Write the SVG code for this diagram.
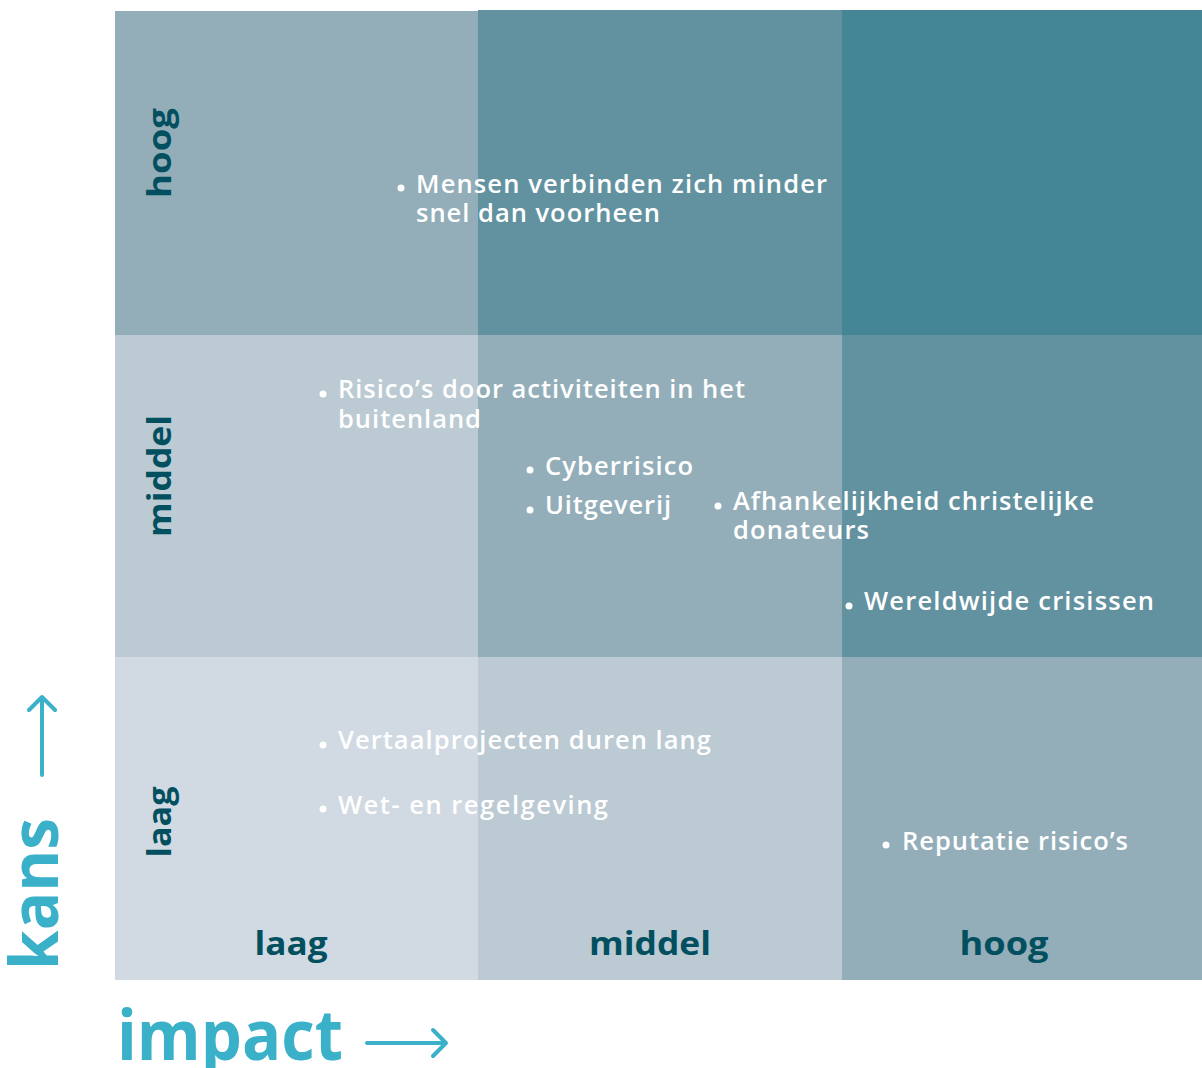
<svg xmlns="http://www.w3.org/2000/svg" width="1202" height="1068" viewBox="0 0 1202 1068">
<style>
.item{font-family:"Open Sans","Noto Sans","Liberation Sans",sans-serif;font-weight:600;font-size:25.5px;fill:#ffffff}
.dot{fill:#ffffff}
.lvl{font-family:"Open Sans","Noto Sans","Liberation Sans",sans-serif;font-weight:700;font-size:32px;fill:#02505f;text-anchor:middle}
.axis{font-family:"Open Sans","Noto Sans","Liberation Sans",sans-serif;font-weight:700;font-size:70px;fill:#3bb0c9}
.arr{stroke:#3bb0c9;stroke-width:4;fill:none;stroke-linecap:round;stroke-linejoin:round}
</style>
<rect width="1202" height="1068" fill="#ffffff"/>
<g id="grid">
<rect x="115" y="11" width="363" height="324" fill="#93aeb9"/>
<rect x="478" y="10" width="364" height="325" fill="#6292a0"/>
<rect x="842" y="10" width="360" height="325" fill="#448695"/>
<rect x="115" y="335" width="363" height="322" fill="#bbcad3"/>
<rect x="478" y="335" width="364" height="322" fill="#93aeb9"/>
<rect x="842" y="335" width="360" height="322" fill="#6292a0"/>
<rect x="115" y="657" width="363" height="323" fill="#d1dae2"/>
<rect x="478" y="657" width="364" height="323" fill="#bbcad3"/>
<rect x="842" y="657" width="360" height="323" fill="#93aeb9"/>
</g>
<g id="row-labels">
<text class="lvl" transform="translate(171,153) rotate(-90)" textLength="90" lengthAdjust="spacingAndGlyphs">hoog</text>
<text class="lvl" transform="translate(171,476) rotate(-90)" textLength="122" lengthAdjust="spacingAndGlyphs">middel</text>
<text class="lvl" transform="translate(171,822) rotate(-90)" textLength="71" lengthAdjust="spacingAndGlyphs">laag</text>
</g>
<g id="col-labels">
<text class="lvl" x="291" y="955" textLength="73" lengthAdjust="spacingAndGlyphs">laag</text>
<text class="lvl" x="650" y="955" textLength="122" lengthAdjust="spacingAndGlyphs">middel</text>
<text class="lvl" x="1004" y="955" textLength="89" lengthAdjust="spacingAndGlyphs">hoog</text>
</g>
<g id="item-mensen">
<circle class="dot" cx="401" cy="188" r="3.5"/>
<text class="item" x="416" y="193" textLength="411">Mensen verbinden zich minder</text>
<text class="item" x="416" y="222" textLength="244">snel dan voorheen</text>
</g>
<g id="item-risicos">
<circle class="dot" cx="323" cy="394" r="3.5"/>
<text class="item" x="338" y="398" textLength="407">Risico’s door activiteiten in het</text>
<text class="item" x="338" y="428" textLength="143">buitenland</text>
</g>
<g id="item-cyber">
<circle class="dot" cx="530" cy="470" r="3.5"/>
<text class="item" x="545" y="475" textLength="148">Cyberrisico</text>
</g>
<g id="item-uitgeverij">
<circle class="dot" cx="530" cy="510" r="3.5"/>
<text class="item" x="545" y="514" textLength="126">Uitgeverij</text>
</g>
<g id="item-afhankelijkheid">
<circle class="dot" cx="718" cy="506" r="3.5"/>
<text class="item" x="733" y="510" textLength="361">Afhankelijkheid christelijke</text>
<text class="item" x="733" y="539" textLength="136">donateurs</text>
</g>
<g id="item-wereldwijd">
<circle class="dot" cx="849" cy="606" r="3.5"/>
<text class="item" x="864" y="610" textLength="290">Wereldwijde crisissen</text>
</g>
<g id="item-vertaal">
<circle class="dot" cx="323" cy="745" r="3.5"/>
<text class="item" x="338" y="749" textLength="373">Vertaalprojecten duren lang</text>
</g>
<g id="item-wet">
<circle class="dot" cx="323" cy="809" r="3.5"/>
<text class="item" x="338" y="814" textLength="270">Wet- en regelgeving</text>
</g>
<g id="item-reputatie">
<circle class="dot" cx="886" cy="845" r="3.5"/>
<text class="item" x="902" y="850" textLength="226">Reputatie risico’s</text>
</g>
<g id="axis-kans">
<text class="axis" transform="translate(58,970) rotate(-90)" style="font-size:66px" textLength="152" lengthAdjust="spacingAndGlyphs">kans</text>
<path class="arr" d="M42,775 L42,697 M29,710 L42,697 L55,710"/>
</g>
<g id="axis-impact">
<text class="axis" x="117" y="1060" textLength="226" lengthAdjust="spacingAndGlyphs">impact</text>
<path class="arr" d="M367,1043 L446,1043 M433,1030 L446,1043 L433,1056"/>
</g>
</svg>
